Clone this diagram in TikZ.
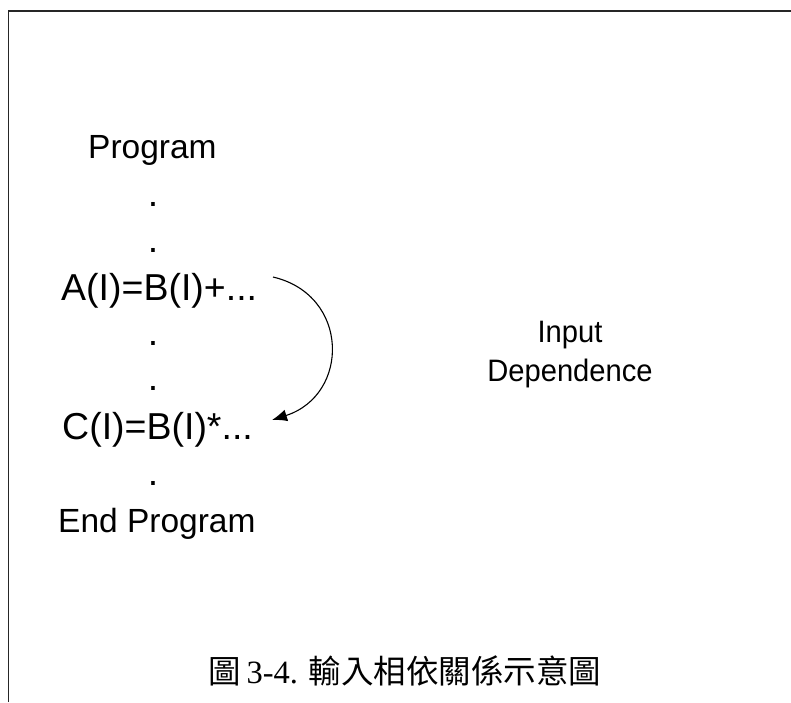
\documentclass[tikz,border=0pt]{standalone}
\usepackage{fontspec}
\setmainfont{Liberation Sans}
\newfontfamily\cjk{Noto Sans CJK TC}
\newfontfamily\tms{Liberation Serif}
\usetikzlibrary{arrows.meta}
\tikzset{
  code/.style={inner sep=0pt, anchor=base west, font=\fontsize{37.5}{40}\selectfont},
  prog/.style={inner sep=0pt, anchor=base west, font=\fontsize{33.5}{36}\selectfont},
  dotline/.style={inner sep=0pt, anchor=base, font=\fontsize{37.5}{40}\selectfont},
  label/.style={inner sep=0pt, anchor=base, xscale=0.94, font=\fontsize{31}{34}\selectfont},
  frame/.style={line width=1.8pt, draw=black!85},
  dep/.style={line width=1.1pt, -{Latex[length=15pt,width=12pt]}}
}
\begin{document}
\begin{tikzpicture}[x=1pt,y=-1pt]
\useasboundingbox (0,0) rectangle (791,702);
\draw[frame] (8.5,702) -- (8.5,11) -- (791,11);
\node[prog] (p) at (88,158) {Program};
\node[dotline] (d1) at (153,206) {.};
\node[dotline] (d2) at (153,252) {.};
\node[code] (a) at (61,300) {A(I)=B(I)+...};
\node[dotline] (d3) at (153,345) {.};
\node[dotline] (d4) at (153,390) {.};
\node[code] (c) at (62,439) {C(I)=B(I)*...};
\node[dotline] (d5) at (153,485) {.};
\node[prog] (e) at (58,532) {End Program};
\node[label] (in) at (570,342) {Input};
\node[label] (de) at (570,381) {Dependence};
\coordinate (s) at (273,277);
\coordinate (t) at (272,420);
\draw[dep] (s) .. controls (350,295) and (350,395) .. (t);
\node[inner sep=0pt, anchor=base] (cap) at (405,683) {\fontsize{32.5}{34}\selectfont\cjk 圖\,{\tms 3-4.}\,\,輸入相依關係示意圖};
\end{tikzpicture}
\end{document}
